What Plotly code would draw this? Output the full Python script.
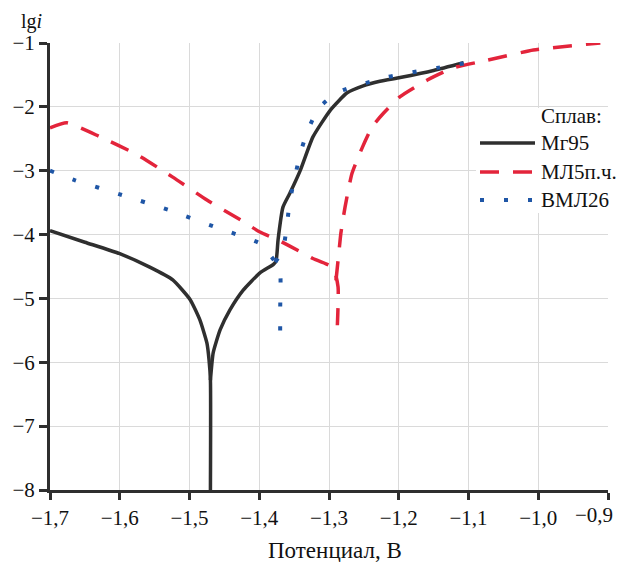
import plotly.graph_objects as go

# ---------------- data ----------------
# Мг95 (solid black): cathodic branch down to corrosion potential, then anodic branch
mg95_x = [-1.700, -1.650, -1.600, -1.557, -1.524, -1.499, -1.485, -1.475, -1.472, -1.470, -1.470,
          None,
          -1.470, -1.466, -1.456, -1.442, -1.423, -1.399, -1.380, -1.376, -1.373, -1.366, -1.356,
          -1.341, -1.323, -1.298, -1.274, -1.251, -1.227, -1.198, -1.150, -1.107]
mg95_y = [-3.94, -4.12, -4.30, -4.51, -4.71, -5.02, -5.34, -5.70, -5.96, -6.28, -8.00,
          None,
          -6.28, -5.85, -5.49, -5.18, -4.87, -4.60, -4.47, -4.42, -4.08, -3.57, -3.35,
          -2.99, -2.47, -2.05, -1.78, -1.67, -1.60, -1.54, -1.43, -1.31]

# МЛ5п.ч. (dashed red)
ml5_x = [-1.700, -1.676, -1.628, -1.575, -1.524, -1.475, -1.427, -1.399, -1.374, -1.341, -1.324,
         -1.294, -1.287, -1.288,
         None,
         -1.290, -1.285, -1.283, -1.277, -1.267, -1.252, -1.238, -1.222, -1.198, -1.159, -1.122,
         -1.073, -1.007, -0.911]
ml5_y = [-2.33, -2.25, -2.47, -2.75, -3.10, -3.46, -3.77, -3.96, -4.08, -4.27, -4.37,
         -4.52, -4.82, -5.42,
         None,
         -4.72, -4.19, -3.98, -3.57, -3.04, -2.63, -2.31, -2.10, -1.84, -1.58, -1.39,
         -1.27, -1.11, -1.00]

# ВМЛ26 (dotted blue)
vml_x = [-1.700, -1.664, -1.597, -1.531, -1.466, -1.432, -1.399, -1.377, -1.370, -1.370, -1.370,
         None,
         -1.377, -1.366, -1.360, -1.356, -1.349, -1.341, -1.330, -1.315, -1.287, -1.248, -1.215,
         -1.145, -1.107]
vml_y = [-3.00, -3.15, -3.38, -3.61, -3.87, -4.00, -4.14, -4.43, -4.60, -5.18, -5.66,
         None,
         -4.43, -4.24, -3.82, -3.46, -3.11, -2.72, -2.36, -2.02, -1.77, -1.63, -1.53,
         -1.39, -1.32]

series_names = ["Мг95", "МЛ5п.ч.", "ВМЛ26"]
legend_title = "Сплав:"

x_ticks = [-1.7, -1.6, -1.5, -1.4, -1.3, -1.2, -1.1, -1.0, -0.9]
x_labels = ["\u22121,7", "\u22121,6", "\u22121,5", "\u22121,4", "\u22121,3",
            "\u22121,2", "\u22121,1", "\u22121,0", "\u22120,9"]
y_ticks = [-8, -7, -6, -5, -4, -3, -2, -1]
y_labels = ["\u22128", "\u22127", "\u22126", "\u22125", "\u22124", "\u22123", "\u22122", "\u22121"]

# ---------------- styling ----------------
FONT = "Liberation Serif, Times New Roman, serif"
BLACK = "#2f2f2f"
RED = "#e3243b"
BLUE = "#1f56a6"
styles = [
    dict(color=BLACK, width=3.5, dash="solid"),
    dict(color=RED, width=3.5, dash="19px,14px"),
    dict(color=BLUE, width=4, dash="4px,20px"),
]

# page body has an 8px default margin -> figure is offset by 8px
OFF = 8
W, H = 627 - OFF, 562 - OFF
# plot area on screen: x 50..608, y 43..490
ML, MT = 50 - OFF, 43 - OFF
MR = W - (608 - OFF)
MB = H - (490 - OFF)
PW, PH = W - ML - MR, H - MT - MB


def px(xs):  # screen x -> paper
    return (xs - OFF - ML) / PW


def py(ys):  # screen y -> paper
    return (H - MB - (ys - OFF)) / PH


fig = go.Figure()
for (xs, ys), name, st in zip([(mg95_x, mg95_y), (ml5_x, ml5_y), (vml_x, vml_y)], series_names, styles):
    fig.add_trace(go.Scatter(x=xs, y=ys, mode="lines", name=name, showlegend=False,
                             line=dict(color=st["color"], width=st["width"], dash=st["dash"],
                                       shape="spline", smoothing=0.5),
                             connectgaps=False))

# legend (drawn to match the reference: long samples, title above)
shapes = [dict(type="rect", xref="paper", yref="paper", layer="above",
               x0=px(476), x1=px(630), y0=py(213), y1=py(108),
               fillcolor="white", line=dict(width=0))]
annotations = [dict(text=legend_title, xref="paper", yref="paper", x=px(539), y=py(116),
                    xanchor="left", yanchor="middle", showarrow=False,
                    font=dict(size=21, family=FONT, color="#111"))]
for i, (name, st) in enumerate(zip(series_names, styles)):
    yy = [143, 172, 200][i]
    shapes.append(dict(type="line", xref="paper", yref="paper", layer="above",
                       x0=px(480), x1=px(535), y0=py(yy), y1=py(yy),
                       line=dict(color=st["color"], width=st["width"], dash=st["dash"])))
    annotations.append(dict(text=name, xref="paper", yref="paper", x=px(539), y=py(yy),
                            xanchor="left", yanchor="middle", showarrow=False,
                            font=dict(size=21, family=FONT, color="#111")))

annotations.append(dict(text="lg<i>i</i>", xref="paper", yref="paper", x=px(31), y=py(22),
                        xanchor="center", yanchor="middle", showarrow=False,
                        font=dict(size=20, family=FONT, color="#111")))
annotations.append(dict(text="Потенциал, В", xref="paper", yref="paper", x=px(335), y=py(550),
                        xanchor="center", yanchor="middle", showarrow=False,
                        font=dict(size=23, family=FONT, color="#111")))
# last x tick label sits at the right page edge: place it so it stays fully visible
annotations.append(dict(text=x_labels[-1], xref="paper", yref="paper", x=px(615), y=py(515),
                        xanchor="right", yanchor="middle", showarrow=False,
                        font=dict(size=21, family=FONT, color="#111")))
x_labels_axis = x_labels[:-1] + [""]

fig.update_layout(
    width=W, height=H,
    margin=dict(l=ML, r=MR, t=MT, b=MB, autoexpand=False),
    paper_bgcolor="white", plot_bgcolor="white",
    font=dict(family=FONT, size=21, color="#111"),
    showlegend=False,
    shapes=shapes,
    annotations=annotations,
)

fig.update_xaxes(range=[-1.7, -0.9], tickvals=x_ticks, ticktext=x_labels_axis, automargin=False,
                 showgrid=True, gridcolor="#dadada", gridwidth=1,
                 showline=True, linecolor=BLACK, linewidth=3,
                 ticks="outside", ticklen=7, tickwidth=2.5, tickcolor=BLACK,
                 zeroline=False)
fig.update_yaxes(range=[-8, -1], tickvals=y_ticks, ticktext=y_labels, automargin=False,
                 showgrid=True, gridcolor="#dadada", gridwidth=1,
                 showline=True, linecolor=BLACK, linewidth=3,
                 ticks="outside", ticklen=8, tickwidth=2.5, tickcolor=BLACK,
                 zeroline=False)

fig.write_html("out.html")
